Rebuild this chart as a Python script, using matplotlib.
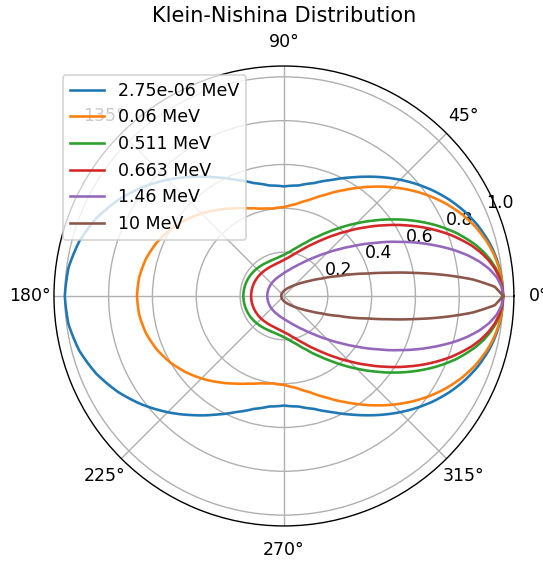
import numpy as np
import matplotlib
matplotlib.use("Agg")
import matplotlib.pyplot as plt

# Scattering angle samples (degrees), 0..180; the distribution is symmetric about 0°
angles_deg = [0, 2.5, 5, 7.5, 10, 12.5, 15, 20, 25, 30, 35, 40, 45, 50, 55, 60,
              67.5, 75, 82.5, 90, 97.5, 105, 112.5, 120, 127.5, 135, 142.5, 150,
              157.5, 165, 172.5, 180]

energy_labels = ["2.75e-06 MeV", "0.06 MeV", "0.511 MeV", "0.663 MeV", "1.46 MeV", "10 MeV"]

# Relative differential cross-section (normalised to 1 at 0°)
r_2p75e_6 = [1.0, 0.9990, 0.9962, 0.9915, 0.9849, 0.9766, 0.9665, 0.9415, 0.9107, 0.875,
             0.8355, 0.7934, 0.75, 0.7066, 0.6645, 0.625, 0.5732, 0.5335, 0.5085, 0.5,
             0.5085, 0.5335, 0.5732, 0.625, 0.6853, 0.75, 0.8147, 0.875,
             0.9268, 0.9665, 0.9915, 1.0]
r_0p06 = [1.0, 0.9988, 0.9953, 0.9895, 0.9814, 0.9712, 0.9588, 0.9283, 0.8910, 0.8482,
          0.8013, 0.7519, 0.7015, 0.6516, 0.6037, 0.5591, 0.5005, 0.4544, 0.4226, 0.4054,
          0.4024, 0.4122, 0.4327, 0.4614, 0.4954, 0.5321, 0.5684, 0.6020,
          0.6305, 0.6523, 0.6658, 0.6705]
r_0p511 = [1.0, 0.9972, 0.9887, 0.9748, 0.9558, 0.9321, 0.9044, 0.8390, 0.7647, 0.6866,
           0.6091, 0.5356, 0.4685, 0.4091, 0.3579, 0.3148, 0.2642, 0.2280, 0.2034, 0.1875,
           0.1781, 0.1733, 0.1716, 0.1720, 0.1736, 0.1758, 0.1782, 0.1805,
           0.1824, 0.1839, 0.1849, 0.1852]
r_0p663 = [1.0, 0.9966, 0.9864, 0.9699, 0.9474, 0.9196, 0.8873, 0.8123, 0.7292, 0.6444,
           0.5627, 0.4877, 0.4213, 0.3642, 0.3163, 0.2769, 0.2316, 0.1999, 0.1783, 0.1641,
           0.1552, 0.1500, 0.1472, 0.1461, 0.1459, 0.1464, 0.1471, 0.1480,
           0.1487, 0.1493, 0.1497, 0.1498]
r_1p46 = [1.0, 0.9936, 0.9749, 0.9450, 0.9055, 0.8585, 0.8062, 0.6943, 0.5843, 0.4853,
          0.4015, 0.3331, 0.2788, 0.2362, 0.2030, 0.1772, 0.1487, 0.1289, 0.1148, 0.1047,
          0.0973, 0.0918, 0.0877, 0.0846, 0.0821, 0.0803, 0.0789, 0.0778,
          0.0770, 0.0765, 0.0762, 0.0761]
r_10 = [1.0, 0.9630, 0.8651, 0.7363, 0.6055, 0.4900, 0.3959, 0.2653, 0.1873, 0.1390,
        0.1075, 0.0859, 0.0704, 0.0590, 0.0503, 0.0435, 0.0360, 0.0304, 0.0263, 0.0232,
        0.0207, 0.0188, 0.0173, 0.0161, 0.0151, 0.0143, 0.0137, 0.0132,
        0.0129, 0.0127, 0.0125, 0.0125]

series = [r_2p75e_6, r_0p06, r_0p511, r_0p663, r_1p46, r_10]


def full_circle(half_angles, half_r):
    """Mirror a 0..180° profile onto 180..360°."""
    a = np.asarray(half_angles, dtype=float)
    r = np.asarray(half_r, dtype=float)
    a_full = np.concatenate([a, 360.0 - a[-2::-1]])
    r_full = np.concatenate([r, r[-2::-1]])
    return np.deg2rad(a_full), r_full


fig = plt.figure(figsize=(543 / 125, 561 / 125), dpi=125)
ax = fig.add_axes([0.0994, 0.0624, 0.847, 0.820], projection="polar")

for label, r in zip(energy_labels, series):
    th, rr = full_circle(angles_deg, r)
    line, = ax.plot(th, rr, label=label)
    # let the polar transform draw each segment along theta instead of as a chord
    line.get_path()._interpolation_steps = 16

ax.set_title("Klein-Nishina Distribution")
ax.legend(loc="upper left")

fig.savefig("out.png", dpi=125)
